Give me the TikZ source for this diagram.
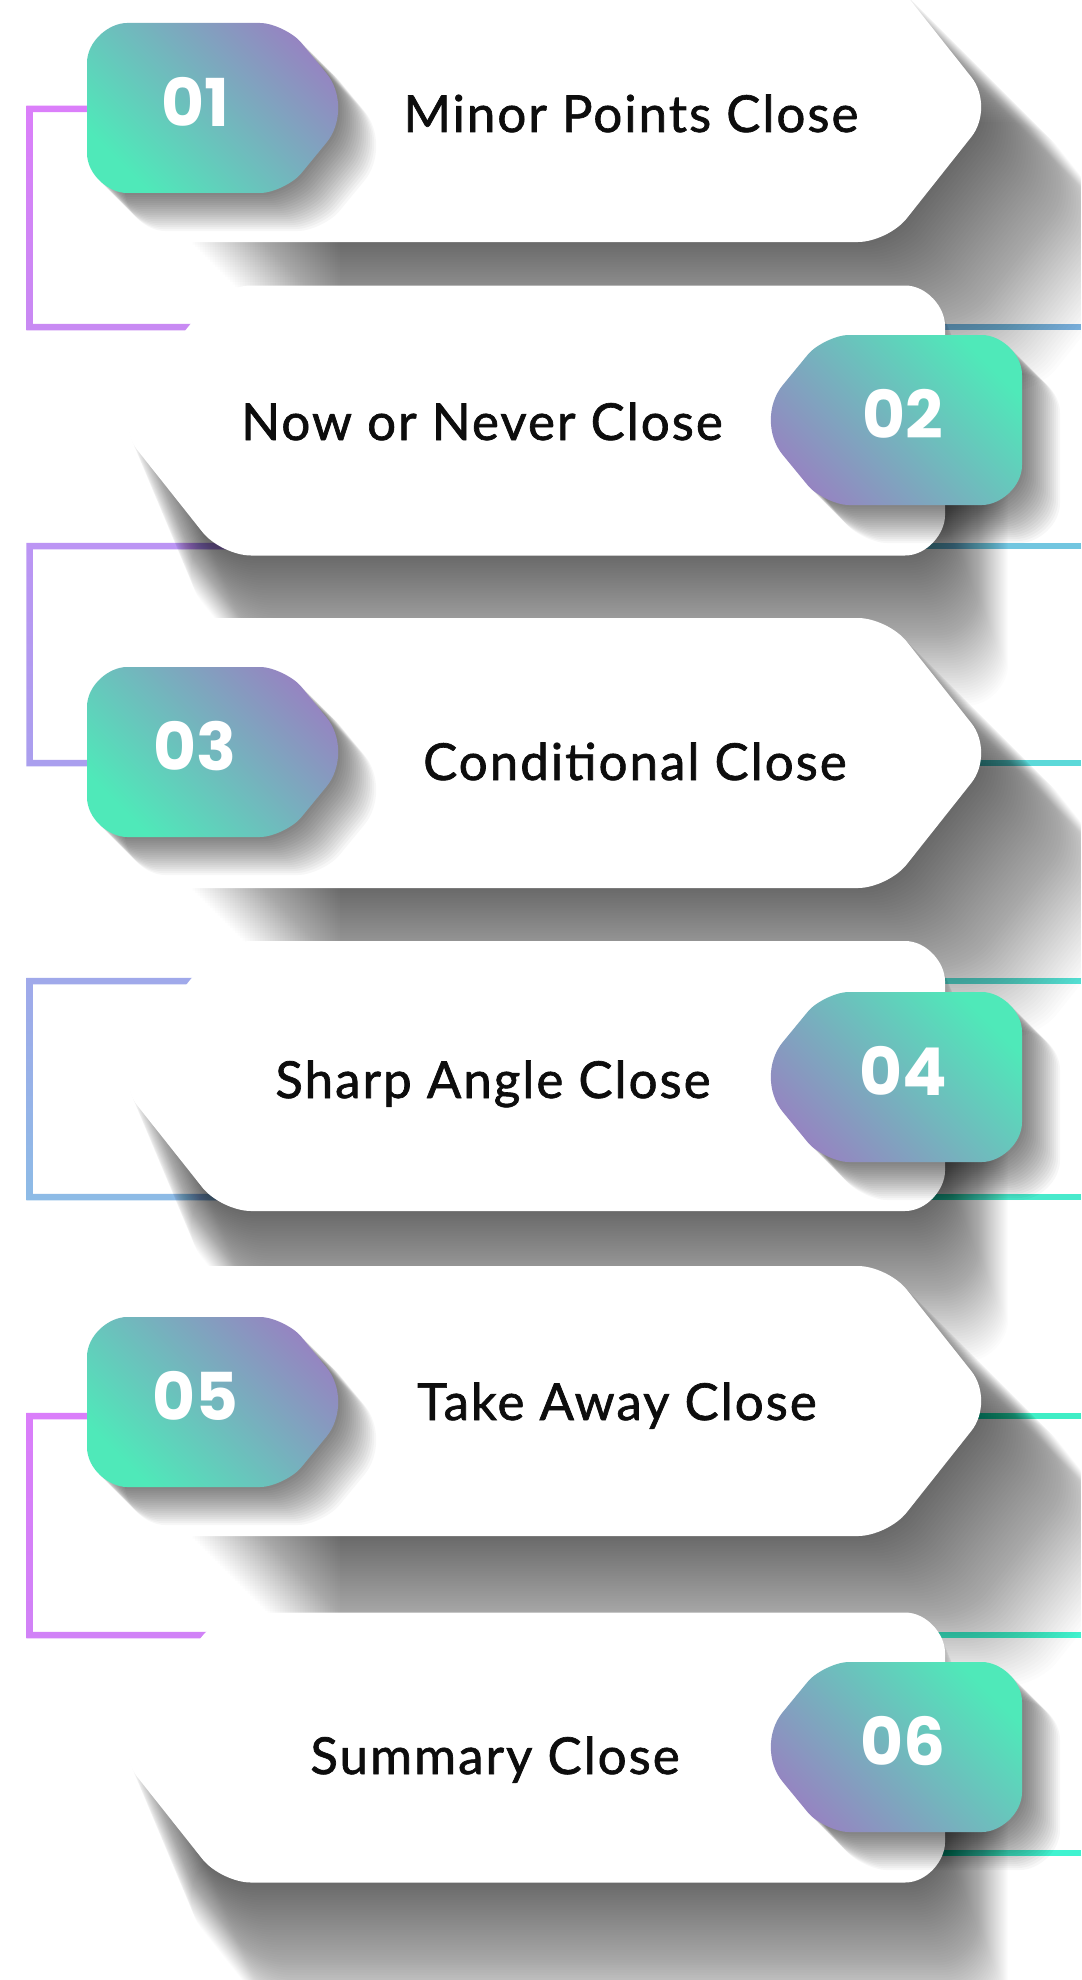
\documentclass[tikz,border=0pt]{standalone}
\usepackage{fontspec}
\setmainfont{Lato}
\newfontfamily\lblfont{Lato}[LetterSpace=4, RawFeature={embolden=1.3}]
\newfontfamily\numfont{Poppins}
\definecolor{mint}{HTML}{4FE9B9}
\definecolor{lilac}{HTML}{9585C1}
\definecolor{ink}{HTML}{0D0D0D}

% base outlines, centred vertically on y = 0 (y grows downwards)
\def\oddcard{(190,-135) -- (858,-135) .. controls (874.5,-135) and (896.4,-124.4) .. (906.6,-111.5) -- (971.4,-29.8) .. controls (984.4,-13.4) and (984.4,13.4) .. (971.4,29.8) -- (906.6,111.5) .. controls (896.4,124.4) and (874.5,135) .. (858,135) -- (190,135) -- cycle}
\def\evencard{(251,-135) -- (905,-135) .. controls (927,-135) and (945,-113) .. (945,-95) -- (945,95) .. controls (945,113) and (927,135) .. (905,135) -- (251,135) .. controls (234.5,135) and (212.6,124.4) .. (202.4,111.5) -- (137.6,29.8) .. controls (124.6,13.4) and (124.6,-13.4) .. (137.6,-29.8) -- (202.4,-111.5) .. controls (212.6,-124.4) and (234.5,-135) .. (251,-135) -- cycle}
\def\oddbadge{(87,-45) .. controls (87,-67) and (109,-85) .. (127,-85) -- (260,-85) .. controls (273.75,-85) and (293.8,-74.4) .. (300.9,-65.7) -- (326.4,-34.7) .. controls (342.1,-15.6) and (342.1,15.6) .. (326.4,34.7) -- (300.9,65.7) .. controls (293.8,74.4) and (273.75,85) .. (260,85) -- (127,85) .. controls (109,85) and (87,67) .. (87,45) -- cycle}
\def\evenbadge{(1022,-45) .. controls (1022,-67) and (1000,-85) .. (982,-85) -- (849,-85) .. controls (835.25,-85) and (815.2,-74.4) .. (808.1,-65.7) -- (782.6,-34.7) .. controls (766.9,-15.6) and (766.9,15.6) .. (782.6,34.7) -- (808.1,65.7) .. controls (815.2,74.4) and (835.25,85) .. (849,85) -- (982,85) .. controls (1000,85) and (1022,67) .. (1022,45) -- cycle}

% long soft shadow: stacked translucent copies of an outline
% #1 outline, #2 centre y, #3 horizontal drift per unit drop, #4 copies, #5 step, #6 opacity
\newcommand\castshadow[6]{%
  \foreach \k in {1,...,#4}{%
    \fill[black, fill opacity=#6, shift={({#3*#5*\k},{#2+#5*\k})}] #1;
  }}

% one step: card, its shadow, the number badge and the badge shadow
% #1 card outline, #2 badge outline, #3 card y, #4 badge y, #5 shadow drift, #6 badge start colour, #7 badge end colour
\newcommand\cardrow[7]{%
  \castshadow{#1}{#3}{#5}{60}{2.5}{0.0107}
  \fill[white, shift={(0,#3)}] #1;
  \castshadow{#2}{#4}{1}{19}{2}{0.032}
  \shade[left color=#6, right color=#7, shading angle=135, shift={(0,#4)}] #2;
}

% left bracket joining two steps: #1 top y, #2 bottom y, #3 top colour, #4 bottom colour (hex)
\newcommand\bracket[4]{%
  \definecolor{brtop}{HTML}{#3}\definecolor{brbot}{HTML}{#4}%
  \shade[top color=brtop, bottom color=brbot]
    (26.25,{#1-3.25}) -- (300,{#1-3.25}) -- (300,{#1+3.25}) -- (32.75,{#1+3.25})
    -- (32.75,{#2-3.25}) -- (300,{#2-3.25}) -- (300,{#2+3.25}) -- (26.25,{#2+3.25}) -- cycle;
}
% right-hand rail running off the edge: #1 y, #2 colour (hex)
\newcommand\rail[2]{%
  \definecolor{railc}{HTML}{#2}%
  \fill[railc] (700,{#1-3.25}) rectangle (1081,{#1+3.25});
}

\tikzset{
  lbl/.style={font=\lblfont\fontsize{51}{60}\selectfont, text=ink, anchor=base, inner sep=0pt},
  num/.style={font=\numfont\bfseries\fontsize{66}{70}\selectfont, text=white, anchor=base, inner sep=0pt},
}

\begin{document}
\begin{tikzpicture}[x=1pt, y=-1pt]
\useasboundingbox (0,0) rectangle (1081,1980);
\clip (0,0) rectangle (1081,1980);
\fill[white] (0,0) rectangle (1081,1980);

% connectors
\bracket{109}{327}{DB7FFA}{C88AF3}
\bracket{546}{763}{BC95F4}{AA9FEE}
\bracket{981}{1197}{A0A9EA}{8DBBE6}
\bracket{1416}{1635}{DA7EFA}{D182F7}
\rail{327}{7DB6E2}
\rail{546}{72C6E0}
\rail{763}{5CD9D9}
\rail{981}{55E2D6}
\rail{1197}{48EACC}
\rail{1416}{3FEEC6}
\rail{1635}{40F3CF}
\rail{1853}{40F3D0}

% steps
\cardrow{\oddcard}{\oddbadge}{107}{108}{1}{mint}{lilac}
\cardrow{\evencard}{\evenbadge}{420.5}{420}{0.42}{lilac}{mint}
\cardrow{\oddcard}{\oddbadge}{753}{752}{1}{mint}{lilac}
\cardrow{\evencard}{\evenbadge}{1076}{1077}{0.42}{lilac}{mint}
\cardrow{\oddcard}{\oddbadge}{1401}{1402}{1}{mint}{lilac}
\cardrow{\evencard}{\evenbadge}{1747.5}{1747}{0.42}{lilac}{mint}

% numbers
\node[num] (num1) at (195,126.5) {01};
\node[num] (num2) at (903,438.5) {02};
\node[num] (num3) at (195,770.5) {03};
\node[num] (num4) at (903,1095.5) {04};
\node[num] (num5) at (195,1420.5) {05};
\node[num] (num6) at (903,1765.5) {06};

% labels
\node[lbl] (label1) at (631,132) {Minor Points Close};
\node[lbl] (label2) at (482,440) {Now or Never Close};
\node[lbl] (label3) at (635,780) {Conditional Close};
\node[lbl] (label4) at (493,1098) {Sharp Angle Close};
\node[lbl] (label5) at (617,1420) {Take Away Close};
\node[lbl] (label6) at (495,1774) {Summary Close};
\end{tikzpicture}
\end{document}
